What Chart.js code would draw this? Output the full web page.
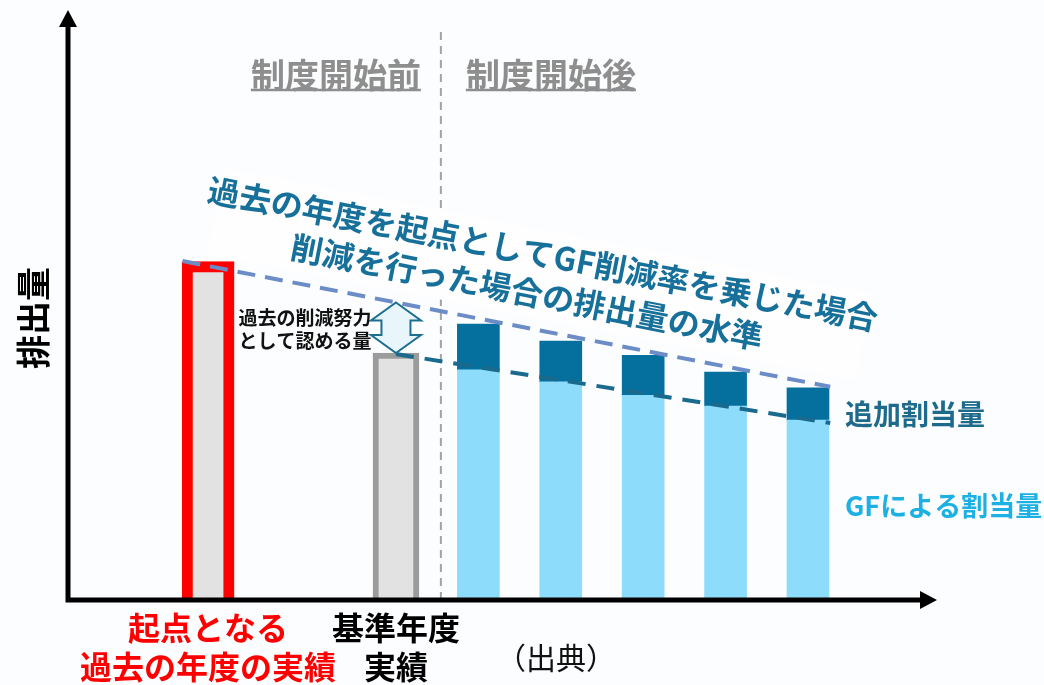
<!DOCTYPE html>
<html lang="ja">
<head>
<meta charset="utf-8">
<title>排出量</title>
<script src="https://cdn.jsdelivr.net/npm/chart.js@4.4.1/dist/chart.umd.min.js"></script>
<style>
body { margin: 0; background: #fcfdfe; }
canvas { display: block; }
</style>
</head>
<body>
<canvas id="mycanvas" width="1044" height="685"></canvas>
<script>
// years after the scheme starts (0 = first year)
var years = [0, 1, 2, 3, 4];
var gfAlloc = [40.8, 38.7, 36.3, 34.4, 31.9];   // GFによる割当量
var addAlloc = [8.1, 7.2, 7.1, 6.0, 5.7];       // 追加割当量

var pastYear = -3.28;
var pastValue = 60;
var baseYear = -1;
var baseValue = 43.8;

// reduction path from the past year, and from the base year
var pastPathX = [-3.59, 4.27];
var pastPathY = [60.1, 37.8];
var basePathX = [-1, 4.27];
var basePathY = [43.6, 31.4];

var schemeStart = -0.455;

var tickValues = [pastYear, baseYear];
var tickLabels = [["起点となる", "過去の年度の実績"], ["基準年度", "実績"]];

var FONT = '"Noto Sans CJK JP", "Noto Sans", sans-serif';
Chart.defaults.font.family = FONT;

function pts(xs, ys) {
	var out = [];
	for (var i in xs) out.push({x: xs[i], y: ys[i]});
	return out;
}

function label(ctx, str, x, y, size, weight, color, align) {
	ctx.font = weight + ' ' + size + 'px ' + FONT;
	ctx.fillStyle = color;
	ctx.textAlign = align || 'center';
	ctx.textBaseline = 'middle';
	ctx.fillText(str, x, y);
	return ctx.measureText(str).width;
}

var drawings = {
	id: 'drawings',
	beforeDraw: function(chart) {
		var ctx = chart.ctx;
		ctx.save();
		ctx.fillStyle = '#fcfdfe';
		ctx.fillRect(0, 0, chart.width, chart.height);
		ctx.restore();
	},
	beforeDatasetsDraw: function(chart) {
		var ctx = chart.ctx;
		var area = chart.chartArea;
		var xd = chart.scales.x.getPixelForValue(schemeStart);
		ctx.save();
		ctx.strokeStyle = '#a3a3a3';
		ctx.lineWidth = 2;
		ctx.setLineDash([8, 6]);
		ctx.beginPath();
		ctx.moveTo(xd, 32);
		ctx.lineTo(xd, area.bottom);
		ctx.stroke();
		ctx.setLineDash([]);
		// text box behind the slanted caption
		ctx.translate(540, 274);
		ctx.rotate(11 * Math.PI / 180);
		ctx.fillStyle = '#fefeff';
		ctx.fillRect(-330, -44, 660, 88);
		ctx.restore();
	},
	afterDatasetsDraw: function(chart) {
		var ctx = chart.ctx;
		var area = chart.chartArea;
		var xs = chart.scales.x, ys = chart.scales.y;
		ctx.save();

		// axes with arrow heads
		ctx.strokeStyle = '#000';
		ctx.fillStyle = '#000';
		ctx.lineWidth = 5;
		ctx.beginPath();
		ctx.moveTo(area.left, area.bottom + 2.5);
		ctx.lineTo(area.left, area.top - 10);
		ctx.moveTo(area.left - 2.5, area.bottom);
		ctx.lineTo(area.right - 3, area.bottom);
		ctx.stroke();
		ctx.beginPath();
		ctx.moveTo(area.left, area.top - 26);
		ctx.lineTo(area.left - 9, area.top - 9);
		ctx.lineTo(area.left + 9, area.top - 9);
		ctx.closePath();
		ctx.fill();
		ctx.beginPath();
		ctx.moveTo(area.right + 12, area.bottom);
		ctx.lineTo(area.right - 5, area.bottom - 9);
		ctx.lineTo(area.right - 5, area.bottom + 9);
		ctx.closePath();
		ctx.fill();

		// double arrow between the past path and the base year bar
		var slope = (pastPathY[1] - pastPathY[0]) / (pastPathX[1] - pastPathX[0]);
		var xc = xs.getPixelForValue(baseYear);
		var t = ys.getPixelForValue(pastPathY[0] + (baseYear - pastPathX[0]) * slope);
		var b = ys.getPixelForValue(baseValue);
		var hw = 25, sw = 14.5, hh = 18;
		ctx.beginPath();
		ctx.moveTo(xc, t);
		ctx.lineTo(xc + hw, t + hh);
		ctx.lineTo(xc + sw, t + hh);
		ctx.lineTo(xc + sw, b - hh);
		ctx.lineTo(xc + hw, b - hh);
		ctx.lineTo(xc, b);
		ctx.lineTo(xc - hw, b - hh);
		ctx.lineTo(xc - sw, b - hh);
		ctx.lineTo(xc - sw, t + hh);
		ctx.lineTo(xc - hw, t + hh);
		ctx.closePath();
		ctx.fillStyle = '#e8f6fc';
		ctx.fill();
		ctx.lineWidth = 2;
		ctx.strokeStyle = '#1d6f8f';
		ctx.stroke();

		var mid = (t + b) / 2;
		label(ctx, '過去の削減努力', xc - 91, mid - 10, 19, 'bold', '#111');
		label(ctx, 'として認める量', xc - 91, mid + 13, 19, 'bold', '#111');

		// scheme headers
		var xd = xs.getPixelForValue(schemeStart);
		ctx.lineWidth = 2.5;
		ctx.strokeStyle = '#8e8e8e';
		var w = label(ctx, '制度開始前', xd - 20, 75, 34, 'bold', '#8e8e8e', 'right');
		ctx.beginPath();
		ctx.moveTo(xd - 20 - w, 90);
		ctx.lineTo(xd - 20, 90);
		ctx.stroke();
		w = label(ctx, '制度開始後', xd + 25, 75, 34, 'bold', '#8e8e8e', 'left');
		ctx.beginPath();
		ctx.moveTo(xd + 25, 90);
		ctx.lineTo(xd + 25 + w, 90);
		ctx.stroke();

		// slanted caption
		ctx.save();
		ctx.translate(543, 254);
		ctx.rotate(11 * Math.PI / 180);
		label(ctx, '過去の年度を起点としてGF削減率を乗じた場合', 0, 0, 32, 'bold', '#17709a');
		ctx.restore();
		ctx.save();
		ctx.translate(527, 292);
		ctx.rotate(11 * Math.PI / 180);
		label(ctx, '削減を行った場合の排出量の水準', 0, 0, 32, 'bold', '#17709a');
		ctx.restore();

		// series names next to the last bar
		var last = years.length - 1;
		var lx = xs.getPixelForValue(years[last]) + 37;
		label(ctx, '追加割当量', lx, ys.getPixelForValue(gfAlloc[last] + addAlloc[last] / 2) + 10, 28, 'bold', '#1d6a8c', 'left');
		label(ctx, 'GFによる割当量', lx, ys.getPixelForValue(gfAlloc[last] / 2) - 4, 27, 'bold', '#1cb0e3', 'left');

		label(ctx, '（出典）', 556, 658, 30, 'normal', '#111');
		ctx.restore();
	}
};

var ctx = document.getElementById('mycanvas');
var chart = new Chart(ctx, {
	type: 'bar',
	data: {
		datasets: [
			{
				type: 'line',
				label: '過去の年度を起点とした水準',
				data: pts(pastPathX, pastPathY),
				borderColor: '#6b8cc7',
				borderWidth: 4,
				borderDash: [18, 10],
				pointRadius: 0,
				fill: false,
				stack: 'past',
				order: 1
			},
			{
				type: 'line',
				label: '基準年度からの水準',
				data: pts(basePathX, basePathY),
				borderColor: '#1a6a8e',
				borderWidth: 4,
				borderDash: [18, 11],
				pointRadius: 0,
				fill: false,
				stack: 'base',
				order: 1
			},
			{
				label: '過去の年度の実績',
				data: [{x: pastYear, y: pastValue}],
				backgroundColor: '#e2e2e2',
				borderColor: '#ff0000',
				borderWidth: 11,
				barThickness: 52,
				order: 2
			},
			{
				label: '基準年度実績',
				data: [{x: baseYear, y: baseValue}],
				backgroundColor: '#e2e2e2',
				borderColor: '#9b9b9b',
				borderWidth: 6,
				barThickness: 46,
				order: 2
			},
			{
				label: 'GFによる割当量',
				data: pts(years, gfAlloc),
				backgroundColor: '#8ddcfb',
				barThickness: 42,
				order: 2
			},
			{
				label: '追加割当量',
				data: pts(years, addAlloc),
				backgroundColor: '#05709e',
				barThickness: 42,
				order: 2
			}
		]
	},
	options: {
		responsive: false,
		animation: false,
		layout: {padding: {top: 36, right: 119, bottom: 0, left: 0}},
		plugins: {
			legend: {display: false},
			tooltip: {enabled: false}
		},
		scales: {
			x: {
				type: 'linear',
				min: -4.98,
				max: 5.42,
				offset: false,
				stacked: true,
				grid: {display: false, drawTicks: false},
				border: {display: false},
				afterBuildTicks: function(scale) {
					scale.ticks = tickValues.map(function(v) { return {value: v}; });
				},
				afterFit: function(scale) { scale.height = 85; },
				ticks: {
					autoSkip: false,
					maxRotation: 0,
					minRotation: 0,
					padding: 9,
					font: {size: 32, weight: 'bold', lineHeight: 1.2},
					color: function(c) { return c.index === 0 ? '#ff0000' : '#000000'; },
					callback: function(value, index) { return tickLabels[index]; }
				}
			},
			y: {
				min: 0,
				max: 100,
				stacked: true,
				grid: {display: false, drawTicks: false},
				border: {display: false},
				ticks: {display: false},
				title: {
					display: true,
					text: '排出量',
					color: '#000',
					font: {size: 34, weight: 'bold', lineHeight: 1.2},
					padding: {top: 13, bottom: 0}
				},
				afterFit: function(scale) { scale.width = 68; }
			}
		}
	},
	plugins: [drawings]
});
</script>
</body>
</html>
